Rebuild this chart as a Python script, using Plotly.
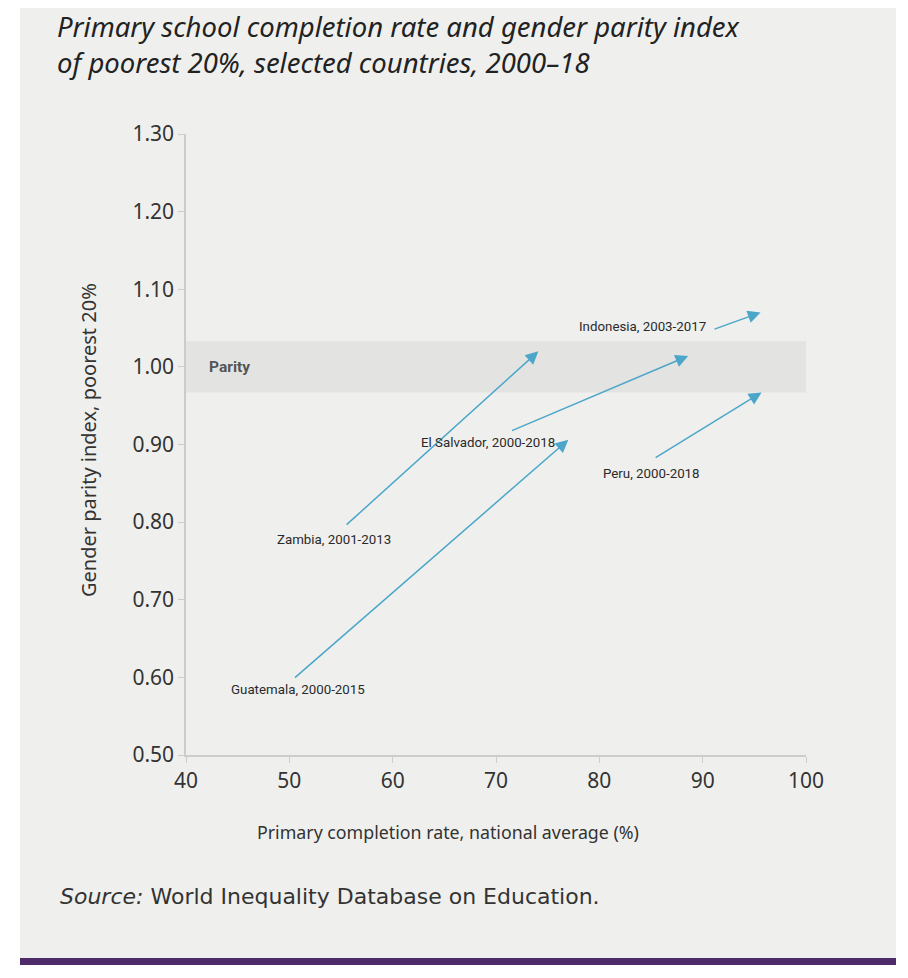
import plotly.graph_objects as go

# ---- data ----
countries = ["Indonesia, 2003-2017", "Zambia, 2001-2013", "El Salvador, 2000-2018",
             "Guatemala, 2000-2015", "Peru, 2000-2018"]
start_rate = [91.0, 55.4, 71.4, 50.4, 85.3]
start_gpi = [1.048, 0.795, 0.917, 0.598, 0.882]
end_rate = [95.6, 74.1, 88.6, 77.0, 95.7]
end_gpi = [1.070, 1.020, 1.014, 0.906, 0.967]
label_x = [90.5, 54.3, 69.2, 50.8, 85.0]
label_y = [1.052, 0.777, 0.903, 0.584, 0.863]
label_anchor = ["right", "center", "center", "center", "center"]
parity_low, parity_high = 0.967, 1.033
x_ticks = [40, 50, 60, 70, 80, 90, 100]
y_ticks = [0.5, 0.6, 0.7, 0.8, 0.9, 1.0, 1.1, 1.2, 1.3]

OFF = 8  # default page body margin
W, H = 908 - OFF, 978 - OFF
L, T = 186 - OFF, 134 - OFF
R = W - (806 - OFF)
B = H - (755 - OFF)
pw, ph = W - L - R, H - T - B

def px_x(p):  # reference pixel -> paper x
    return (p - OFF - L) / pw

def px_y(p):  # reference pixel -> paper y
    return (H - B - (p - OFF)) / ph

ARROW = "#4ba6c9"
TXT = "#333333"
fig = go.Figure()

fig.add_trace(go.Scatter(x=start_rate + end_rate, y=start_gpi + end_gpi, mode="markers",
                         marker=dict(opacity=0), hoverinfo="skip", showlegend=False))

shapes = [
    dict(type="rect", xref="paper", yref="paper", x0=px_x(20), x1=px_x(896), y0=px_y(958), y1=px_y(-10),
         fillcolor="#eff0ee", line_width=0, layer="below"),
    dict(type="rect", xref="paper", yref="paper", x0=px_x(20), x1=px_x(896), y0=px_y(965), y1=px_y(958),
         fillcolor="#4e2a68", line_width=0, layer="below"),
    dict(type="rect", xref="x", yref="y", x0=40, x1=100, y0=parity_low, y1=parity_high,
         fillcolor="#e3e4e2", line_width=0, layer="below"),
]

annotations = []
for i in range(len(countries)):
    annotations.append(dict(x=end_rate[i], y=end_gpi[i], ax=start_rate[i], ay=start_gpi[i],
                            xref="x", yref="y", axref="x", ayref="y", text="", showarrow=True,
                            arrowhead=2, arrowsize=1.7, arrowwidth=1.5, arrowcolor=ARROW, standoff=0))
    annotations.append(dict(x=label_x[i], y=label_y[i], xref="x", yref="y", text=countries[i],
                            showarrow=False, xanchor=label_anchor[i], yanchor="middle",
                            font=dict(family="Roboto", size=13.3, color="#2a2a2a")))

annotations.append(dict(x=42, y=1.0, xref="x", yref="y", text="<b>Parity</b>", showarrow=False,
                        xanchor="left", yanchor="middle",
                        font=dict(family="Roboto", size=15.5, color="#555555")))

TITLE_FONT = dict(family="Noto Sans", size=27.5, color="#222222")
annotations.append(dict(x=px_x(57), y=px_y(27), xref="paper", yref="paper", xanchor="left", yanchor="middle",
                        text="<i>Primary school completion rate and gender parity index</i>", showarrow=False,
                        font=TITLE_FONT, borderpad=0, borderwidth=0))
annotations.append(dict(x=px_x(57), y=px_y(63), xref="paper", yref="paper", xanchor="left", yanchor="middle",
                        text="<i>of poorest 20%, selected countries, 2000\u201318</i>", showarrow=False,
                        font=TITLE_FONT, borderpad=0, borderwidth=0))
annotations.append(dict(x=px_x(58), y=px_y(897), xref="paper", yref="paper", xanchor="left", yanchor="middle",
                        text="<i>Source:</i> World Inequality Database on Education.", showarrow=False,
                        font=dict(family="DejaVu Sans", size=22, color=TXT)))
# axis titles
annotations.append(dict(x=px_x(448), y=px_y(832), xref="paper", yref="paper", xanchor="center", yanchor="middle",
                        text="Primary completion rate, national average (%)", showarrow=False,
                        font=dict(family="Noto Sans", size=17.8, color=TXT)))
annotations.append(dict(x=px_x(88), y=px_y(440), xref="paper", yref="paper", xanchor="center", yanchor="middle",
                        text="Gender parity index, poorest 20%", showarrow=False, textangle=-90,
                        font=dict(family="Noto Sans", size=20, color=TXT)))

fig.update_layout(
    width=W, height=H, margin=dict(l=L, r=R, t=T, b=B, autoexpand=False),
    paper_bgcolor="white", plot_bgcolor="rgba(0,0,0,0)",
    shapes=shapes, annotations=annotations, showlegend=False,
    font=dict(family="Noto Sans", color=TXT),
)
fig.update_xaxes(range=[40, 100], tickvals=x_ticks, ticktext=[str(v) for v in x_ticks],
                 showgrid=False, zeroline=False, showline=True, linecolor="#cccccc", linewidth=1.5,
                 ticks="outside", ticklen=6, tickcolor="#cccccc", tickfont=dict(size=21, color=TXT))
fig.update_yaxes(range=[0.5, 1.3], tickvals=y_ticks, ticktext=["%.2f" % v for v in y_ticks],
                 showgrid=False, zeroline=False, showline=True, linecolor="#cccccc", linewidth=1.5,
                 ticks="outside", ticklen=6, tickcolor="#cccccc", tickfont=dict(size=21, color=TXT))

fig.write_html("out.html")
